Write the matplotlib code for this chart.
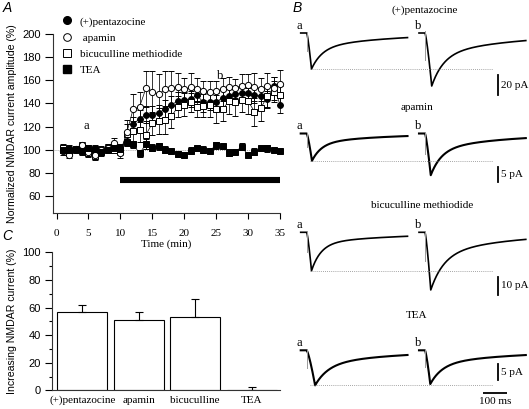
import numpy as np
import matplotlib
matplotlib.use("Agg")
import matplotlib.pyplot as plt
from matplotlib.lines import Line2D
from matplotlib.ticker import MultipleLocator

# ---------------- data ----------------
time_min = list(range(1, 36))

pent_mean = [101, 101, 100, 102, 99, 100, 98, 101, 100, 102,
             108, 122, 127, 130, 130, 132, 135, 139, 142, 143,
             144, 147, 141, 141, 141, 145, 146, 148, 149, 149,
             147, 146, 144, 155, 139]
pent_err = [3, 3, 2, 3, 3, 2, 3, 2, 3, 3,
            5, 6, 7, 7, 8, 7, 8, 7, 8, 7,
            7, 6, 8, 7, 8, 7, 6, 7, 8, 6,
            7, 8, 7, 8, 7]

apa_mean = [99, 96, 101, 104, 98, 96, 100, 102, 106, 97,
            115, 135, 137, 153, 150, 148, 152, 153, 154, 152,
            154, 152, 151, 150, 151, 152, 154, 153, 155, 156,
            154, 152, 155, 153, 157]
apa_err = [3, 3, 2, 3, 2, 3, 2, 3, 4, 4,
           11, 13, 13, 15, 18, 17, 16, 15, 12, 10,
           12, 10, 8, 9, 8, 10, 9, 8, 10, 9,
           12, 10, 11, 10, 12]

bic_mean = [102, 98, 100, 103, 97, 95, 100, 102, 100, 99,
            114, 116, 117, 113, 123, 125, 126, 129, 137, 139,
            141, 137, 138, 139, 135, 135, 142, 141, 143, 142,
            133, 136, 146, 150, 147]
bic_err = [3, 3, 2, 4, 3, 4, 3, 3, 3, 3,
           8, 9, 10, 12, 10, 11, 12, 10, 9, 10,
           8, 9, 10, 11, 12, 10, 11, 12, 10, 11,
           12, 11, 10, 9, 8]

tea_mean = [100, 100, 101, 99, 102, 101, 98, 100, 102, 101,
            107, 105, 97, 105, 102, 103, 100, 99, 96.5, 95.7,
            99.4, 101.4, 100, 99.5, 104, 103, 97.7, 98.6, 102.6, 95.7,
            98.6, 101.4, 101.5, 100, 99]
tea_err = [3, 3, 2, 3, 2, 3, 2, 3, 2, 3,
           4, 3, 3, 4, 3, 3, 3, 2, 3, 2,
           3, 2, 3, 2, 3, 2, 3, 2, 3, 2,
           3, 2, 3, 2, 2]

series_labels = ["(+)pentazocine", " apamin", "bicuculline methiodide", "TEA"]
drug_start, drug_end, drug_bar_level = 10, 35, 74

bar_labels = ["(+)pentazocine", "apamin", "bicuculline", "TEA"]
bar_values = [56.8, 50.7, 52.9, 0.5]
bar_errors = [4.8, 5.8, 13.0, 2.2]

# traces (panel B): per row, [a, b]
trace_titles = ["(+)pentazocine", "apamin", "bicuculline methiodide", "TEA"]
trace_amp_pA = [[36, 53], [9.1, 13.9], [21, 31.5], [10.5, 10.1]]
trace_tpeak_ms = [[20, 28], [22, 24], [20, 24], [35, 22]]
trace_tau_fast = [[45, 50], [40, 45], [40, 55], [55, 50]]
trace_tau_slow = [[350, 380], [300, 320], [400, 350], [350, 380]]
trace_frac_fast = [[0.6, 0.6], [0.65, 0.62], [0.72, 0.62], [0.6, 0.6]]
scale_bar_pA = [20, 5, 10, 5]
time_bar_ms = 100

# ---------------- figure ----------------
W, H = 529, 409
fig = plt.figure(figsize=(W / 100, H / 100), dpi=100)
SANS = "Liberation Sans"
SERIF = "Liberation Serif"
FS = 8


def px_axes(l, t, r, b):
    return fig.add_axes([l / W, 1 - b / H, (r - l) / W, (b - t) / H])


# ---------------- panel A ----------------
axA = px_axes(52.7, 33.7, 280, 212.7)
axA.set_xlim(-0.6, 35)
axA.set_ylim(46, 200)
for s in ("top", "right"):
    axA.spines[s].set_visible(False)
for s in ("left", "bottom"):
    axA.spines[s].set_linewidth(0.8)
    axA.spines[s].set_color("#333333")
axA.axhline(100, color="#888888", lw=0.6, ls=(0, (1, 1.5)), zorder=0)

styles = [
    (pent_mean, pent_err, dict(marker="o", mfc="black", mec="black", ms=4.2)),
    (bic_mean, bic_err, dict(marker="s", mfc="white", mec="black", ms=4.0)),
    (apa_mean, apa_err, dict(marker="o", mfc="white", mec="black", ms=4.5)),
    (tea_mean, tea_err, dict(marker="s", mfc="black", mec="black", ms=4.0)),
]
for mean, err, st in styles:
    axA.errorbar(time_min, mean, yerr=err, color="black", lw=0.5, elinewidth=0.55,
                 capsize=2, capthick=0.55, mew=0.7, clip_on=False, **st)

axA.plot([drug_start, drug_end], [drug_bar_level, drug_bar_level], color="black",
         lw=4.4, solid_capstyle="butt")
axA.text(4.7, 121, "a", family=SERIF, fontsize=9, ha="center", va="center")
axA.text(25.7, 164, "b", family=SERIF, fontsize=9, ha="center", va="center")

axA.set_xticks(range(0, 36, 5))
axA.set_yticks(range(60, 201, 20))
axA.tick_params(axis="x", length=4, width=0.8, pad=8, labelsize=FS)
axA.tick_params(axis="y", length=5.5, width=0.8, pad=3, labelsize=FS)
for lab in axA.get_xticklabels():
    lab.set_family(SERIF)
for lab in axA.get_yticklabels():
    lab.set_family(SANS)
axA.set_xlabel("Time (min)", family=SERIF, fontsize=FS, labelpad=1)
axA.set_ylabel("Normalized NMDAR current amplitude (%)", family=SANS, fontsize=7.6, labelpad=4)

handles = [
    Line2D([], [], ls="none", marker="o", mfc="black", mec="black", ms=5.5),
    Line2D([], [], ls="none", marker="o", mfc="white", mec="black", ms=5.5, mew=0.7),
    Line2D([], [], ls="none", marker="s", mfc="white", mec="black", ms=5.5, mew=0.7),
    Line2D([], [], ls="none", marker="s", mfc="black", mec="black", ms=5.5),
]
leg = axA.legend(handles, series_labels, loc="upper left",
                 bbox_to_anchor=(61.5 / W, 1 - 16.5 / H), bbox_transform=fig.transFigure,
                 frameon=False, borderpad=0, borderaxespad=0, handlelength=1.0,
                 handletextpad=0.65, labelspacing=0.58, prop=dict(family=SERIF, size=FS))

# ---------------- panel C ----------------
axC = px_axes(51.7, 252.3, 280, 390.3)
xpos = np.arange(len(bar_labels))
axC.bar(xpos, bar_values, width=0.885, color="white", edgecolor="black", lw=0.8)
axC.errorbar(xpos, bar_values, yerr=[np.zeros(len(bar_values)), bar_errors], ls="none",
             color="black", elinewidth=0.8, capsize=3, capthick=0.8)
axC.set_xlim(-0.54, 3.5)
axC.set_ylim(0, 100)
for s in ("top", "right"):
    axC.spines[s].set_visible(False)
for s in ("left", "bottom"):
    axC.spines[s].set_linewidth(0.8)
    axC.spines[s].set_color("#333333")
axC.set_xticks(xpos)
axC.set_xticklabels(bar_labels, family=SERIF, fontsize=FS)
axC.set_yticks(range(0, 101, 20))
axC.yaxis.set_minor_locator(MultipleLocator(10))
axC.tick_params(axis="x", length=0, pad=4)
axC.tick_params(axis="y", which="major", length=5, width=0.8, pad=3, labelsize=FS)
axC.tick_params(axis="y", which="minor", length=2.5, width=0.8)
for lab in axC.get_yticklabels():
    lab.set_family(SANS)
axC.set_ylabel("Increasing NMDAR current (%)", family=SANS, fontsize=7.6, labelpad=4)

# ---------------- panel B ----------------
STIM_A_PX = 306.7
STIM_B_PX = 425.0
PX_PER_MS = 0.24
B_OFFSET_MS = (STIM_B_PX - STIM_A_PX) / PX_PER_MS
t_ms = np.arange(-25, 421, 1.0)

rows = [  # baseline px, px per pA, axes top px, axes bottom px, title y px, scale-bar bottom (pA)
    (33.0, 1.00, 12, 102, 10, -62.0),
    (133.5, 3.00, 112, 192, 107, -16.1),
    (232.3, 1.83, 212, 302, 205, -34.3),
    (350.3, 3.34, 322, 409, 316, -9.0),
]
title_x_px = [425, 417, 422, 417]
line_w = [1.2, 1.5, 1.2, 1.5]


def waveform(amp, tp, tf, ts, ff):
    y = np.zeros_like(t_ms)
    rise = (t_ms >= 0) & (t_ms < tp)
    y[rise] = -amp * (t_ms[rise] / tp) ** 1.3
    dec = t_ms >= tp
    td = t_ms[dec] - tp
    y[dec] = -amp * (ff * np.exp(-td / tf) + (1 - ff) * np.exp(-td / ts))
    return y


scale_x_ms = (498 - STIM_A_PX) / PX_PER_MS
for i, (base, sc, top, bot, ty, sb_bottom) in enumerate(rows):
    ax = px_axes(285, top, 529, bot)
    ax.set_xlim((285 - STIM_A_PX) / PX_PER_MS, (529 - STIM_A_PX) / PX_PER_MS)
    ax.set_ylim(-(bot - base) / sc, (base - top) / sc)
    ax.axis("off")
    for j, lab in enumerate(["a", "b"]):
        off = j * B_OFFSET_MS
        y = waveform(trace_amp_pA[i][j], trace_tpeak_ms[i][j], trace_tau_fast[i][j],
                     trace_tau_slow[i][j], trace_frac_fast[i][j])
        ax.plot(t_ms + off, y, color="black", lw=line_w[i], clip_on=False)
        ax.plot([off, off], [0.03 * trace_amp_pA[i][j], -0.5 * trace_amp_pA[i][j]],
                color="#999999", lw=0.7)
        ax.annotate(lab, xy=(-25 + off, 0), xytext=(-1, 7), textcoords="offset pixels",
                    family=SERIF, fontsize=9, ha="center", va="center")
    amp_a = trace_amp_pA[i][0]
    ax.plot([14, 776], [-amp_a, -amp_a], color="#888888", lw=0.6, ls=(0, (1, 1.5)))
    ax.plot([scale_x_ms, scale_x_ms], [sb_bottom, sb_bottom + scale_bar_pA[i]],
            color="black", lw=1.3, clip_on=False)
    ax.annotate(f"{scale_bar_pA[i]} pA", xy=(scale_x_ms, sb_bottom + scale_bar_pA[i] / 2),
                xytext=(3, 0), textcoords="offset pixels", family=SERIF, fontsize=FS,
                ha="left", va="center")
    fig.text(title_x_px[i] / W, 1 - ty / H, trace_titles[i], family=SERIF, fontsize=FS,
             ha="center", va="center")
    if i == 3:
        tb0 = (483.3 - STIM_A_PX) / PX_PER_MS
        yb = -(393.3 - base) / sc
        ax.plot([tb0, tb0 + time_bar_ms], [yb, yb], color="black", lw=1.3,
                solid_capstyle="butt", clip_on=False)
        ax.annotate(f"{time_bar_ms} ms", xy=(tb0 + time_bar_ms / 2, yb), xytext=(0, -8),
                    textcoords="offset pixels", family=SERIF, fontsize=FS,
                    ha="center", va="center")

# panel letters
for letter, x, y in [("A", 7, 8), ("B", 297, 8), ("C", 7, 236)]:
    fig.text(x / W, 1 - y / H, letter, family=SANS, style="italic", fontsize=10,
             ha="center", va="center")

fig.savefig("out.png", dpi=100)
